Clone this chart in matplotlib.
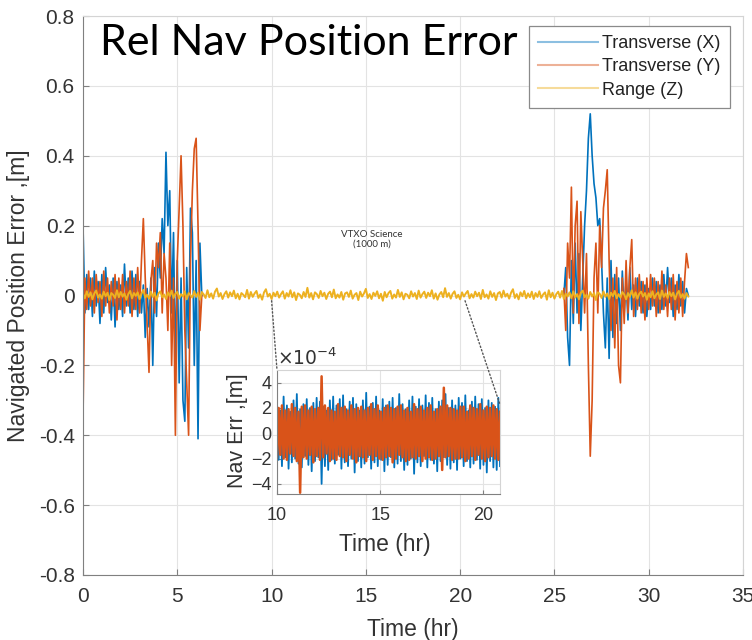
import numpy as np
import matplotlib
matplotlib.use("Agg")
import matplotlib.pyplot as plt
from matplotlib.patches import ConnectionPatch
from matplotlib.ticker import FuncFormatter

plt.rcParams['font.family'] = ['Liberation Sans', 'DejaVu Sans']

# ---- main plot data (m), one sample every 0.1 hr ----
# Transverse (X), first busy stretch 0 - 6.3 hr
x_early = [0.20, -0.05, 0.06, -0.04, 0.05, -0.06, 0.07, -0.03,
           0.04, -0.08, 0.06, -0.05, 0.08, -0.02, 0.03, -0.07,
           0.05, -0.09, 0.04, -0.04, 0.03, -0.06, 0.09, -0.03,
           0.05, -0.05, 0.07, -0.04, 0.06, -0.06, 0.04, -0.05,
           0.03, -0.12, 0.02, -0.09, 0.05, -0.20, 0.08, -0.06,
           0.15, 0.05, 0.22, 0.12, 0.41, 0.20, 0.30, -0.05,
           0.18, -0.20, 0.10, -0.25, 0.05, -0.30, -0.36, 0.08,
           -0.15, 0.25, 0.18, -0.20, 0.10, -0.41, 0.15, 0.00]
# Transverse (Y), 0 - 6.3 hr
y_early = [-0.35, 0.05, -0.04, 0.07, -0.03, 0.05, -0.05, 0.06,
           -0.02, 0.04, -0.06, 0.07, -0.03, 0.05, -0.05, 0.04,
           -0.03, 0.06, -0.07, 0.05, -0.04, 0.06, -0.05, 0.04,
           -0.03, 0.07, -0.06, 0.05, -0.04, 0.08, -0.05, 0.10,
           0.22, 0.05, -0.08, -0.22, 0.04, 0.10, -0.05, 0.15,
           0.08, 0.18, -0.05, 0.12, 0.05, -0.10, 0.15, -0.20,
           0.05, -0.40, 0.10, 0.25, 0.40, 0.20, -0.10, -0.25,
           -0.40, 0.10, 0.30, 0.42, 0.45, 0.20, -0.10, 0.00]
# Transverse (X), second busy stretch 25.5 - 32.1 hr
x_late = [0.00, 0.08, -0.12, -0.20, 0.10, -0.08, 0.15, -0.05,
          0.12, -0.10, 0.05, 0.20, 0.30, 0.45, 0.52, 0.40,
          0.32, 0.28, 0.20, 0.22, 0.10, -0.05, -0.15, 0.05,
          -0.18, 0.10, -0.12, 0.06, -0.08, 0.05, -0.10, 0.07,
          -0.05, 0.04, -0.07, 0.08, -0.04, 0.03, -0.06, 0.05,
          -0.03, 0.04, -0.05, 0.03, -0.06, 0.02, -0.04, 0.05,
          -0.03, 0.04, -0.05, 0.03, -0.04, 0.06, -0.03, 0.08,
          -0.02, 0.05, -0.06, 0.03, -0.04, 0.06, -0.03, 0.04,
          -0.05, 0.02, 0.00]
# Transverse (Y), 25.5 - 32.1 hr
y_late = [0.02, -0.10, 0.15, 0.05, 0.31, -0.05, 0.20, 0.27,
          -0.08, 0.24, 0.10, -0.05, 0.12, -0.20, -0.46, -0.30,
          0.05, 0.15, -0.05, 0.20, 0.08, 0.25, 0.30, 0.36,
          0.10, -0.10, 0.05, -0.15, 0.08, -0.20, -0.25, 0.05,
          -0.08, 0.10, -0.05, 0.08, 0.16, -0.06, 0.05, -0.04,
          0.06, -0.05, 0.04, -0.07, 0.05, -0.04, 0.06, -0.03,
          0.05, -0.06, 0.04, -0.05, 0.07, -0.04, 0.03, -0.06,
          0.05, -0.04, 0.06, -0.07, 0.04, -0.05, 0.05, -0.06,
          0.04, 0.12, 0.08]
# Range (Z) in mm, 0 - 32.1 hr
z_mm = [5, -8, 12, -4, 9, -11, 6, 14, -6, 3, -9, 11, -2, 8, -13, 7, 2, -7, 15, -5,
        10, -3, 6, -12, 4, 13, -8, 7, -1, 9, -10, 5, 16, -6, 2, -9, 11, -4, 8, -14,
        6, 12, -5, 3, -10, 9, -2, 14, -7, 5, 10, -9, 4, -3, 12, -11, 7, 1, -6, 13,
        -4, 8, -12, 10, 3, -7, 15, -5, 6, -9, 11, 20, -3, 7, -10, 4, 12, -6, 9, -2,
        14, -8, 5, -11, 7, 2, -5, 16, -9, 10, -4, 6, 13, -7, 3, -12, 9, 18, -3, 5,
        -10, 8, -2, 11, -6, 4, 12, -9, 7, -3, 15, -5, 9, -13, 6, 2, -8, 10, -4, 22,
        -6, 7, -11, 9, 4, -7, 13, -2, 8, -10, 5, 11, -5, 17, -8, 3, -6, 10, -12, 6,
        9, -4, 14, -9, 2, 7, -13, 11, -3, 6, 19, -7, 4, -10, 8, -1, 12, -8, 5, -15,
        10, -5, 7, 13, -9, 3, -6, 16, -4, 9, -11, 5, 2, -8, 12, -3, 7, -10, 14, -6,
        4, 11, -7, 8, -2, 15, -9, 6, -12, 3, 10, -5, 21, -4, 7, -9, 5, 12, -7, 2,
        -11, 9, -3, 6, 13, -8, 4, -6, 11, -2, 8, -10, 16, -5, 3, -9, 12, -4, 7, -13,
        6, 10, -6, 14, -3, 5, -9, 8, 18, -7, 4, -11, 9, -2, 13, -8, 6, -5, 11, -10,
        7, -4, 12, -7, 3, 9, -12, 15, -5, 8, -9, 4, 11, -6, 13, -10, 5, -3, 9, -8,
        12, -6, 4, -11, 8, 14, -5, 2, -9, 10, -3, 7, -13, 9, 5, -7, 12, -4, 6, -10,
        8, -2, 13, -8, 4, -6, 10, 3, -11, 7, -4, 15, -6, 9, -9, 5, 11, -3, 7, -12,
        6, -5, 12, -8, 3, 9, -10, 14, -4, 6, -7, 10, -2, 8, -11, 5, 13, -6, 4, -9,
        7, -3]

# ---- inset data (x 1e-4 m), 10 - 20.8 hr ----
nav_x = [2.4, -2.1, 1.8, -2.6, 2.9, -1.9, 2.2, -2.8, 1.7, -2.3, 2.6, -2.0, 3.1, -2.4, 1.9, -2.7, 2.3,
         -1.8, 2.7, -2.5, 2.0, -3.0, 2.4, -2.2, 2.8, -1.9, 2.5, -4.0, 2.1, -2.6, 1.8, -2.9, 2.6, -2.1,
         2.9, -2.4, 2.2, -1.7, 2.7, -2.8, 3.0, -2.3, 1.9, -2.6, 2.5, -2.0, 2.8, -3.1, 2.3, -2.2, 1.8,
         -2.7, 2.6, -2.4, 3.2, -1.9, 2.1, -2.8, 2.4, -2.3, 2.9, -2.6, 1.8, -2.1, 2.7, -3.0, 2.2, -2.5,
         2.5, -1.9, 2.8, -2.7, 2.0, -2.4, 3.1, -2.2, 2.3, -2.9, 1.9, -2.5, 2.6, -2.0, 2.9, -3.2, 2.1,
         -2.3, 2.7, -2.6, 2.2, -1.8, 3.0, -2.7, 2.4, -2.1, 2.8, -2.4, 1.9, -3.0, 2.5, -2.2, 2.6, -1.9,
         3.1, -2.5, 2.0, -2.8, 2.6, -2.3, 2.2, -2.9, 2.8, -2.0, 2.4, -2.6, 3.0, -2.2, 1.8, -2.7, 2.5,
         -2.4, 2.9, -2.1, 2.3, -2.8, 2.7, -2.5, 2.0, -3.1, 2.6, -2.2, 2.4, -2.7, 2.1, -2.9, 2.8, -2.6]
nav_y = [-1.9, 2.0, -1.7, 2.2, -2.0, 1.8, -2.1, 1.9, -1.6, 2.3, -1.8, 2.0, -2.2, 1.7, -4.7, 2.1, -1.9,
         2.2, -2.0, 1.8, -1.7, 2.1, -2.3, 1.9, -1.8, 2.0, -2.1, 4.5, -1.9, 2.2, -1.6, 2.0, -2.2, 1.8,
         -2.0, 1.7, -2.1, 2.3, -1.8, 2.0, -1.9, 2.1, -2.2, 1.8, -1.7, 2.2, -2.0, 1.9, -2.3, 2.0, -1.8,
         2.1, -1.9, 1.8, -2.2, 2.0, -1.7, 2.3, -2.1, 1.9, -1.8, 2.2, -2.0, 1.7, -2.1, 2.0, -1.9, 2.2,
         -1.8, 2.0, -2.3, 1.9, -2.0, 2.1, -1.7, 2.2, -1.9, 1.8, -2.2, 2.0, -2.1, 1.7, -1.9, 2.3, -2.0,
         1.9, -1.8, 2.1, -2.2, 1.8, -2.0, 2.0, -1.9, 2.2, -2.1, 1.7, -2.0, 1.9, -1.8, 2.1, -2.9, 3.6,
         -1.9, 2.2, -1.8, 2.0, -2.1, 1.9, -2.0, 1.8, -2.0, 2.1, -1.9, 2.1, -2.2, 1.7, -2.0, 2.2, -1.8,
         2.0, -2.1, 1.9, -1.7, 2.3, -2.0, 1.8, -2.2, 2.1, -1.9, 2.0, -1.8, 2.2, -2.0, 1.9, -2.1, 1.7]

series_labels = ['Transverse (X)', 'Transverse (Y)', 'Range (Z)']
colors = ['#0072BD', '#D95319', '#EDB120']
zoom_start, zoom_end = 10.0, 20.26

t_early = np.linspace(0.0, 6.3, len(x_early))
t_late = np.linspace(25.5, 32.1, len(x_late))
# quiet middle stretch (~1e-4 m) is hidden under the range trace: leave a gap
t_xy = np.concatenate([t_early, [np.nan], t_late])
x_main = np.concatenate([x_early, [np.nan], x_late])
y_main = np.concatenate([y_early, [np.nan], y_late])
t_z = np.linspace(0.0, 32.1, len(z_mm))
z_main = np.array(z_mm) / 1000.0
t_inset = np.linspace(10.0, 20.8, len(nav_x))

tick_col = '#333333'
axis_col = '#808080'
light_col = '#d4d4d4'
grid_col = '#e3e3e3'

fig = plt.figure(figsize=(7.52, 6.4), dpi=100)
ax = fig.add_axes([83 / 752, 65 / 640, 660 / 752, 559 / 640])

ax.plot(t_xy, x_main, color=colors[0], lw=1.2, label=series_labels[0])
ax.plot(t_xy, y_main, color=colors[1], lw=1.2, label=series_labels[1])
ax.plot(t_z, z_main, color=colors[2], lw=1.4, label=series_labels[2])

ax.set_xlim(0, 35)
ax.set_ylim(-0.8, 0.8)
ax.set_xticks(np.arange(0, 36, 5))
ax.set_yticks(np.round(np.arange(-0.8, 0.81, 0.2), 1))
ax.yaxis.set_major_formatter(FuncFormatter(lambda v, p: '{:g}'.format(round(v, 1) + 0.0)))
ax.grid(True, color=grid_col, lw=0.8)
ax.set_axisbelow(True)
for s in ['left', 'bottom']:
    ax.spines[s].set_color(axis_col)
for s in ['top', 'right']:
    ax.spines[s].set_color(light_col)
ax.tick_params(direction='in', length=4, color=axis_col, labelcolor=tick_col, labelsize=15)
ax.tick_params(axis='x', pad=9)
ax.tick_params(axis='y', pad=6)

ax.set_ylabel('Navigated Position Error ,[m]', fontsize=16.5, color=tick_col)
ax.yaxis.set_label_coords(-0.097, 0.5)
ax.yaxis.label.set_va('center')
ax.set_xlabel('Time (hr)', fontsize=16.5, color=tick_col)
ax.xaxis.set_label_coords(0.5, -0.098)
ax.xaxis.label.set_va('center')

leg = ax.legend(loc='upper right', bbox_to_anchor=(0.980, 0.982), fontsize=13,
                frameon=True, fancybox=False, framealpha=1, edgecolor='#8a8a8a',
                handlelength=3.3, handletextpad=0.25, labelspacing=0.35,
                borderpad=0.5, borderaxespad=0)
leg.get_frame().set_linewidth(0.9)
for h in leg.get_lines():
    h.set_alpha(0.45)
    h.set_linewidth(1.5)
for txt in leg.get_texts():
    txt.set_color('#222222')

ax.text(15.3, 0.16, 'VTXO Science\n(1000 m)', ha='center', va='center',
        fontsize=7, family=['Lato', 'DejaVu Sans'], color='#333333', linespacing=1.1)

fig.text(100 / 752, 1 - 55 / 640, 'Rel Nav Position Error', fontsize=31,
         family=['Lato', 'DejaVu Sans'], ha='left', va='baseline', color='black')

# ---- inset ----
axin = fig.add_axes([277 / 752, 1 - 494 / 640, 223 / 752, 124 / 640])
axin.plot(t_inset, nav_x, color=colors[0], lw=1.3)
axin.plot(t_inset, nav_y, color=colors[1], lw=1.8)
axin.set_xlim(10, 20.8)
axin.set_ylim(-4.8, 5.0)
axin.set_xticks([10, 15, 20])
axin.set_yticks([-4, -2, 0, 2, 4])
axin.grid(True, color=grid_col, lw=0.8)
axin.set_axisbelow(True)
for s in ['left', 'bottom']:
    axin.spines[s].set_color(axis_col)
for s in ['top', 'right']:
    axin.spines[s].set_color(light_col)
axin.tick_params(direction='in', length=3, color=axis_col, labelcolor=tick_col, labelsize=13)
axin.tick_params(axis='x', pad=9)
axin.tick_params(axis='y', pad=4)
axin.set_ylabel('Nav Err ,[m]', fontsize=15.5, color=tick_col)
axin.yaxis.set_label_coords(-0.175, 0.51)
axin.yaxis.label.set_va('center')
axin.set_xlabel('Time (hr)', fontsize=16.5, color=tick_col)
axin.xaxis.set_label_coords(0.484, -0.41)
axin.xaxis.label.set_va('center')
axin.text(0.0, 1.01, r'$\times10^{-4}$', transform=axin.transAxes, ha='left', va='bottom',
          fontsize=13.5, color=tick_col)

# dotted zoom connectors
con1 = ConnectionPatch(xyA=(zoom_start, -0.015), coordsA=ax.transData,
                       xyB=(0.0, 1.0), coordsB=axin.transAxes,
                       ls=':', color='#555555', lw=1.0)
con2 = ConnectionPatch(xyA=(zoom_end, -0.015), coordsA=ax.transData,
                       xyB=(1.0, 0.72), coordsB=axin.transAxes,
                       ls=':', color='#555555', lw=1.0)
fig.add_artist(con1)
fig.add_artist(con2)

fig.savefig('out.png', dpi=100)
